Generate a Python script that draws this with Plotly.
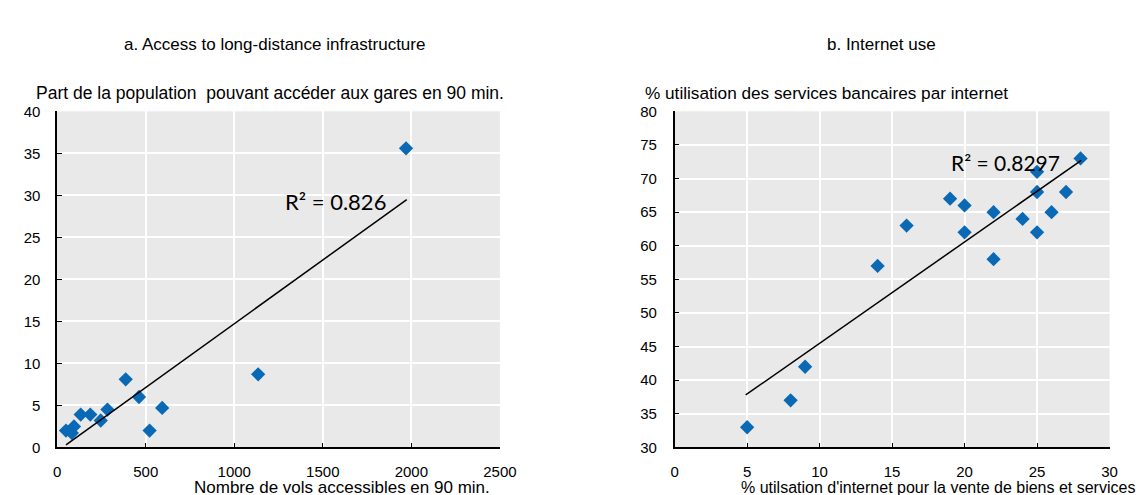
import plotly.graph_objects as go

# ---------------- data ----------------
# Panel a: access to long-distance infrastructure
flights = [1970, 1135, 387, 462, 593, 522, 284, 246, 187, 133, 95, 83, 50]
rail_pop = [35.6, 8.7, 8.1, 6.0, 4.7, 2.0, 4.5, 3.2, 3.9, 3.9, 2.5, 1.7, 2.0]
trend_a_x = [50, 1974]
trend_a_y = [0.3, 29.5]
r2_a = "R² = 0.826"

# Panel b: internet use
web_sales = [5, 8, 9, 14, 16, 19, 20, 20, 22, 22, 24, 25, 25, 25, 26, 27, 28]
web_bank = [33, 37, 42, 57, 63, 67, 66, 62, 65, 58, 64, 62, 68, 71, 65, 68, 73]
trend_b_x = [4.9, 28.05]
trend_b_y = [37.8, 72.7]
r2_b = "R² = 0.8297"

xticks_a = [0, 500, 1000, 1500, 2000, 2500]
yticks_a = [0, 5, 10, 15, 20, 25, 30, 35, 40]
xticks_b = [0, 5, 10, 15, 20, 25, 30]
yticks_b = [30, 35, 40, 45, 50, 55, 60, 65, 70, 75, 80]

title_a = "a. Access to long-distance infrastructure"
title_b = "b. Internet use"
ytitle_a = "Part de la population  pouvant accéder aux gares en 90 min."
ytitle_b = "% utilisation des services bancaires par internet"
xtitle_a = "Nombre de vols accessibles en 90 min."
xtitle_b = "% utilsation d'internet pour la vente de biens et services"

# ---------------- styling ----------------
W, H = 1147, 495
BLUE = "#0969B5"
BG = "#E9E9E9"
FONT = "Liberation Sans, Arial, sans-serif"
R2FONT = "Lato, Carlito, sans-serif"


def px(x):
    return x / W


def py(y):
    return 1 - y / H


fig = go.Figure()

fig.add_trace(go.Scatter(x=flights, y=rail_pop, mode="markers",
                         marker=dict(symbol="diamond", size=11, color=BLUE),
                         xaxis="x", yaxis="y", showlegend=False))
fig.add_trace(go.Scatter(x=trend_a_x, y=trend_a_y, mode="lines",
                         line=dict(color="black", width=1.5),
                         xaxis="x", yaxis="y", showlegend=False))
fig.add_trace(go.Scatter(x=web_sales, y=web_bank, mode="markers",
                         marker=dict(symbol="diamond", size=11, color=BLUE),
                         xaxis="x2", yaxis="y2", showlegend=False))
fig.add_trace(go.Scatter(x=trend_b_x, y=trend_b_y, mode="lines",
                         line=dict(color="black", width=1.5),
                         xaxis="x2", yaxis="y2", showlegend=False))

common = dict(showline=True, linecolor="black", linewidth=1.5,
              ticks="inside", ticklen=5, tickwidth=1.2, tickcolor="black",
              showgrid=True, gridcolor="white", gridwidth=1.5,
              zeroline=False, tickfont=dict(family=FONT, size=15, color="black"),
              fixedrange=True)

ydom = [py(445.7), py(97.7)]

fig.update_layout(
    width=W, height=H, autosize=False,
    margin=dict(l=0, r=0, t=0, b=0),
    paper_bgcolor="white", plot_bgcolor=BG,
    font=dict(family=FONT, color="black"),
    xaxis=dict(domain=[px(46), px(497)], range=[0, 2500], tickvals=xticks_a,
               anchor="y", ticklabelstandoff=10, **common),
    yaxis=dict(domain=ydom, range=[0, 40], tickvals=yticks_a,
               anchor="x", ticklabelstandoff=12, **common),
    xaxis2=dict(domain=[px(675), px(1118)], range=[0, 30], tickvals=xticks_b,
                anchor="y2", ticklabelstandoff=10, **common),
    yaxis2=dict(domain=ydom, range=[30, 80], tickvals=yticks_b,
                anchor="x2", ticklabelstandoff=13, **common),
)

annots = [
    dict(text=title_a, x=px(267), y=py(28), size=17, xanchor="center"),
    dict(text=title_b, x=px(886), y=py(28), size=17, xanchor="center"),
    dict(text=ytitle_a, x=px(22), y=py(79), size=17.5, xanchor="left"),
    dict(text=ytitle_b, x=px(643), y=py(79), size=17.2, xanchor="left"),
    dict(text=xtitle_a, x=px(336), y=py(487), size=17, xanchor="center"),
    dict(text=xtitle_b, x=px(1146), y=py(487), size=16, xanchor="right"),
]
for a in annots:
    fig.add_annotation(text=a["text"], x=a["x"], y=a["y"], xref="paper", yref="paper",
                       xanchor=a["xanchor"], yanchor="middle", showarrow=False,
                       font=dict(family=FONT, size=a["size"], color="black"))

fig.add_annotation(text=r2_a, x=1574, y=29.3, xref="x", yref="y", showarrow=False,
                   xanchor="center", yanchor="middle",
                   font=dict(family=R2FONT, size=22, color="black"))
fig.add_annotation(text=r2_b, x=22.8, y=72.4, xref="x2", yref="y2", showarrow=False,
                   xanchor="center", yanchor="middle",
                   font=dict(family=R2FONT, size=21, color="black"))

fig.write_html("out.html")
